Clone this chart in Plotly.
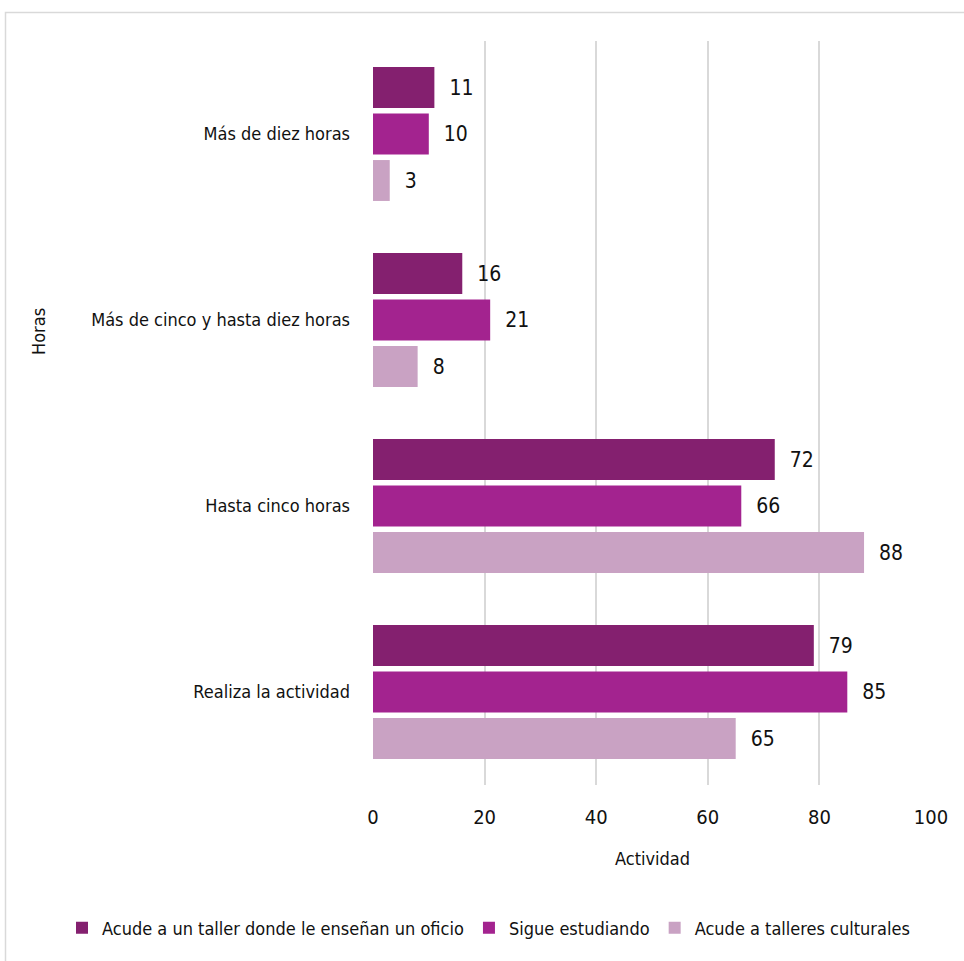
import plotly.graph_objects as go

# Categories (top to bottom) and series values
categorias = [
    "Más de diez horas",
    "Más de cinco y hasta diez horas",
    "Hasta cinco horas",
    "Realiza la actividad",
]
series = [
    "Acude a un taller donde le enseñan un oficio",
    "Sigue estudiando",
    "Acude a talleres culturales",
]
taller_oficio = [11, 16, 72, 79]
sigue_estudiando = [10, 21, 66, 85]
talleres_culturales = [3, 8, 88, 65]
colores = ["#84206f", "#a3238f", "#c9a2c3"]

FONT = "DejaVu Sans Condensed, Liberation Sans Narrow, Arial Narrow, sans-serif"

fig = go.Figure()
for nombre, valores, color in zip(series, [taller_oficio, sigue_estudiando, talleres_culturales], colores):
    fig.add_trace(go.Bar(
        y=categorias,
        x=valores,
        name=nombre,
        orientation="h",
        marker=dict(color=color, line=dict(width=0)),
        text=valores,
        texttemplate="  %{x}",
        textposition="outside",
        textfont=dict(family=FONT, size=21, color="#111111"),
        cliponaxis=False,
    ))

W, H = 964, 961
L, R, T, B = 373, 33, 41, 176
pw, ph = W - L - R, H - T - B

def px_to_paper_x(px):
    return (px - L) / pw

def px_to_paper_y(py):
    return (H - B - py) / ph

fig.update_layout(
    width=W,
    height=H,
    margin=dict(l=L, r=R, t=T, b=B),
    paper_bgcolor="white",
    plot_bgcolor="white",
    barmode="group",
    bargap=0.25,
    bargroupgap=0.12,
    font=dict(family=FONT, size=18, color="#111111"),
    showlegend=True,
    legend=dict(
        orientation="h",
        x=px_to_paper_x(62),
        xanchor="left",
        y=px_to_paper_y(928),
        yanchor="middle",
        font=dict(family=FONT, size=18, color="#111111"),
        itemwidth=30,
        traceorder="normal",
    ),
    xaxis=dict(
        range=[0, 100],
        dtick=20,
        showgrid=True,
        gridcolor="#d9d9d9",
        gridwidth=1.5,
        zeroline=False,
        showline=False,
        ticks="",
        tickfont=dict(family=FONT, size=20, color="#111111"),
        ticklabelstandoff=18,
    ),
    yaxis=dict(
        categoryorder="array",
        categoryarray=categorias,
        autorange="reversed",
        showgrid=False,
        zeroline=False,
        showline=False,
        ticks="",
        tickfont=dict(family=FONT, size=18, color="#111111"),
        ticklabelstandoff=22,
    ),
    shapes=[
        dict(
            type="rect", xref="paper", yref="paper",
            x0=px_to_paper_x(5.5), x1=px_to_paper_x(1000),
            y0=px_to_paper_y(1000), y1=px_to_paper_y(12.5),
            line=dict(color="#d9d9d9", width=1.5),
            fillcolor="rgba(0,0,0,0)",
            layer="below",
        )
    ],
    annotations=[
        dict(
            text="Actividad", xref="paper", yref="paper",
            x=0.5, y=px_to_paper_y(858), xanchor="center", yanchor="middle",
            showarrow=False, font=dict(family=FONT, size=18, color="#111111"),
        ),
        dict(
            text="Horas", xref="paper", yref="paper",
            x=px_to_paper_x(38), y=px_to_paper_y(332), xanchor="center", yanchor="middle",
            textangle=-90, showarrow=False,
            font=dict(family=FONT, size=18, color="#111111"),
        ),
    ],
)

fig.write_html("out.html")
